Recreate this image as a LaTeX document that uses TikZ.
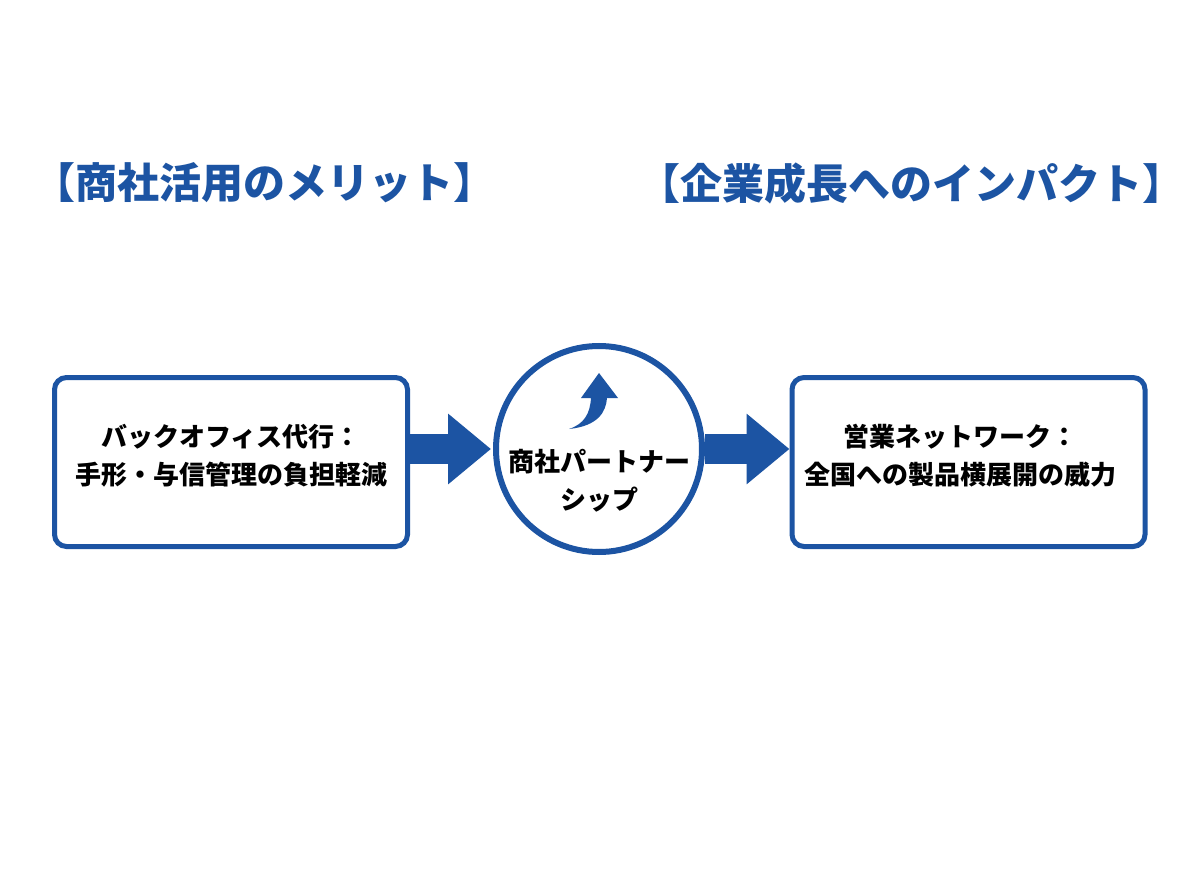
\documentclass[tikz,border=0pt]{standalone}
\usepackage{fontspec}
\setmainfont{Noto Sans CJK JP}
\usetikzlibrary{arrows.meta}
\definecolor{mainblue}{RGB}{28,84,163}
\begin{document}
\begin{tikzpicture}[x=1pt,y=-1pt,
  title/.style={font=\fontsize{42}{50}\selectfont\bfseries, text=mainblue, inner sep=0pt},
  boxnode/.style={draw=mainblue, line width=5pt, rounded corners=12pt, minimum width=353pt, minimum height=169pt, fill=white},
  hubnode/.style={draw=mainblue, line width=6pt, circle, minimum size=206pt, fill=white},
  bodytext/.style={font=\fontsize{26}{38}\selectfont\bfseries, align=center, inner sep=0pt},
  flow/.style={draw=mainblue, line width=30pt, -{Triangle[length=43pt, width=68pt]}}
]
\useasboundingbox (0,0) rectangle (1200,896);
\fill[white] (0,0) rectangle (1200,896);

\node[title] (t1) at (265,183) {【商社活用のメリット】};
\node[title] (t2) at (911,183) {【企業成長へのインパクト】};

\node[boxnode] (L) at (231,462) {};
\node[hubnode] (C) at (599,449) {};
\node[boxnode] (R) at (968.5,462) {};

\node[bodytext] (Lt) at (231,456) {バックオフィス代行：\\手形・与信管理の負担軽減};
\node[bodytext] (Rt) at (960,456) {営業ネットワーク：\\全国への製品横展開の威力};
\node[bodytext] (Ct) at (599,481) {商社パートナー\\シップ};

\draw[flow, shorten >=2pt] (L.east |- C.west) -- (C.west);
\draw[flow] (C.east) -- (R.west |- C.east);

% curved arrow inside the circle
\fill[mainblue] (569,429) .. controls (598,426) and (606,412) .. (607,398)
  -- (618,398) -- (599,373) -- (581,398) -- (591,398)
  .. controls (590,414) and (584,424) .. (569,429) -- cycle;
\end{tikzpicture}
\end{document}
